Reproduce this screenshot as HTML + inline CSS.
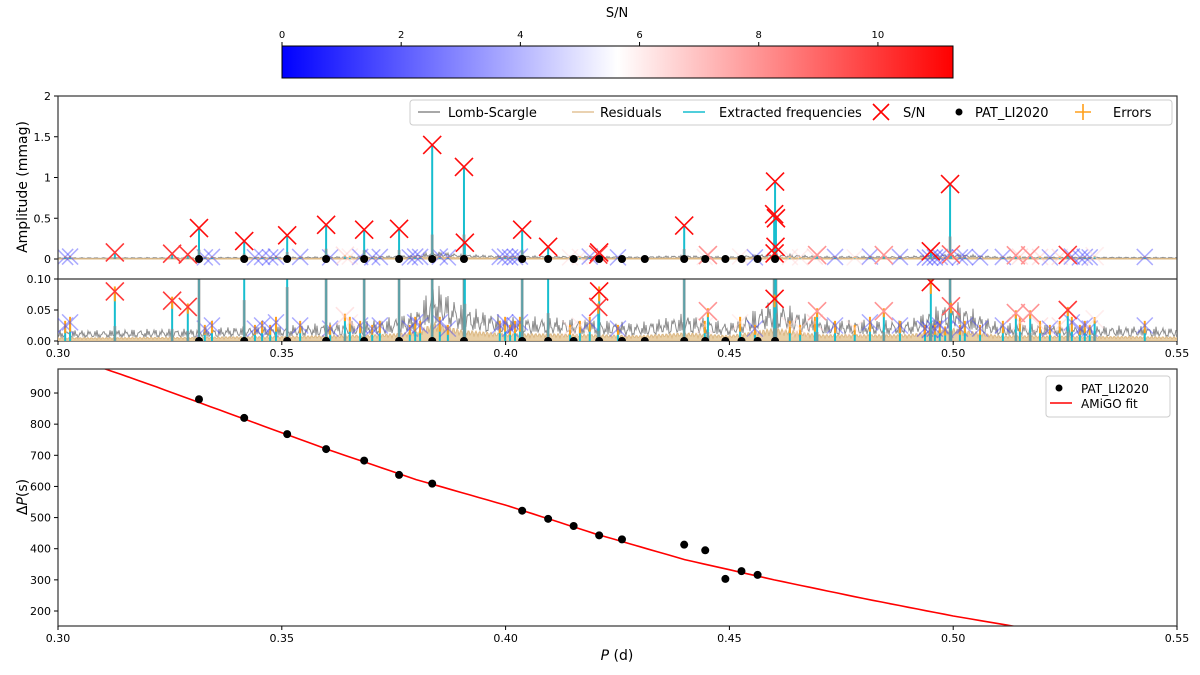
<!DOCTYPE html>
<html><head><meta charset="utf-8"><style>
body{margin:0;background:#fff;font-family:"Liberation Sans","DejaVu Sans",sans-serif}
svg{display:block}
text{font-family:"DejaVu Sans","Liberation Sans",sans-serif;fill:#000}
</style></head><body>
<svg id="chart" width="1200" height="675" viewBox="0 0 1200 675">
<defs>
<linearGradient id="bwr" x1="0" x2="1" y1="0" y2="0">
<stop offset="0" stop-color="#0000ff"/><stop offset="0.5" stop-color="#ffffff"/><stop offset="1" stop-color="#ff0000"/>
</linearGradient>
<clipPath id="clipTop"><rect x="58" y="96" width="1119" height="183"/></clipPath>
<clipPath id="clipSub"><rect x="58" y="279" width="1119" height="62"/></clipPath>
<clipPath id="clipBot"><rect x="58" y="369" width="1119" height="257"/></clipPath>
</defs>
<g>
<text x="617" y="17" font-size="13" text-anchor="middle">S/N</text>
<rect x="282" y="46" width="671" height="32" fill="url(#bwr)" stroke="#000" stroke-width="1"/>
<g id="cbTicks"></g>
</g>
<g id="top"></g>
<g id="sub"></g>
<g id="bot"></g>
<text transform="translate(27,187) rotate(-90)" font-size="14" text-anchor="middle">Amplitude (mmag)</text>
<text transform="translate(27,497) rotate(-90)" font-size="14" text-anchor="middle">Δ<tspan font-style="italic">P</tspan>(s)</text>
<text x="617" y="660" font-size="14" text-anchor="middle"><tspan font-style="italic">P</tspan> (d)</text>
</svg>
<script>
// ---- data ----
const strongPeriods = [0.3127,0.3255,0.3290,0.3315,0.3416,0.3512,0.3599,0.3684,0.3762,0.3836,0.3907,0.3909,0.4037,0.4095,0.4209,0.4207,0.4399,0.4452,0.4602,0.4600,0.4604,0.4603,0.4601,0.4696,0.4845,0.4950,0.4993,0.4995,0.5140,0.5172,0.5256,0.5316,0.3641];
const strongAmps    = [0.080,0.065,0.055,0.38,0.22,0.29,0.42,0.36,0.37,1.40,1.13,0.20,0.36,0.15,0.08,0.055,0.41,0.048,0.95,0.55,0.50,0.15,0.068,0.048,0.048,0.095,0.92,0.056,0.045,0.045,0.05,0.035,0.04];
const strongSN      = [10,10,10,11,11,11,11,11,11,11,11,11,11,11,11,10,11,8,11,11,11,11,11,8,8,11,11,9,8,8,10,6.5,7];
const weakPeriods = [0.3016,0.3027,0.3328,0.3344,0.3440,0.3456,0.3474,0.3487,0.3541,0.3608,0.3652,0.3675,0.3702,0.3719,0.3786,0.3798,0.3809,0.3853,0.3871,0.3987,0.3999,0.4010,0.4021,0.4032,0.4144,0.4166,0.4188,0.4251,0.4445,0.4524,0.4557,0.4635,0.4658,0.4691,0.4736,0.4780,0.4814,0.4881,0.4937,0.4948,0.4959,0.4970,0.4982,0.5015,0.5026,0.5060,0.5111,0.5149,0.5194,0.5216,0.5238,0.5265,0.5283,0.5294,0.5305,0.5428];
const weakAmps = [0.025,0.03,0.02,0.025,0.02,0.025,0.02,0.03,0.025,0.02,0.03,0.025,0.02,0.025,0.02,0.03,0.025,0.03,0.02,0.025,0.03,0.02,0.025,0.03,0.02,0.025,0.03,0.02,0.025,0.03,0.02,0.025,0.02,0.03,0.025,0.02,0.03,0.025,0.02,0.018,0.02,0.025,0.018,0.02,0.025,0.02,0.025,0.03,0.025,0.02,0.025,0.03,0.02,0.025,0.02,0.025];
const weakSN = [1.5,1.5,1.5,1.5,1.5,1.5,1.5,1.5,1.5,1.5,6.5,1.5,1.5,1.5,1.5,1.5,1.5,1.5,1.5,1.5,1.5,1.5,1.5,1.5,6.5,6.5,1.5,1.5,6.5,6.5,1.5,6.5,6.5,7,1.5,6.5,1.5,1.5,1,1,1,1.5,1.5,1.5,1.5,1.5,1.5,7,7,1.5,7,1.5,1.5,1.5,1.5,1.5];
const patPeriods = [0.3315,0.3416,0.3512,0.3599,0.3684,0.3762,0.3836,0.4037,0.4095,0.4152,0.4209,0.4260,0.4399,0.4446,0.4491,0.4527,0.4563];
const patSpacing = [880,820,768,720,683,637,609,522,496,473,443,430,413,395,303,328,316];
const patTopExtra = [0.3907,0.4311,0.4602];
const fitP = [0.30,0.32,0.34,0.36,0.38,0.40,0.42,0.44,0.46,0.48,0.50,0.52];
const fitDP = [1030,930,825,720,622,540,448,365,300,240,184,135];
const noiseP = [0.30,0.31,0.32,0.33,0.34,0.35,0.36,0.37,0.375,0.38,0.384,0.39,0.40,0.41,0.42,0.43,0.44,0.45,0.46,0.47,0.48,0.49,0.50,0.51,0.52,0.53,0.54,0.55];
const noiseAmp = [0.018,0.018,0.02,0.02,0.024,0.025,0.03,0.034,0.04,0.05,0.1,0.06,0.04,0.04,0.035,0.03,0.045,0.03,0.07,0.035,0.035,0.035,0.07,0.03,0.028,0.025,0.025,0.022];
const xTicks = [0.30,0.35,0.40,0.45,0.50,0.55];
const topTicks = [0,0.5,1,1.5,2];
const topTickLbl = ["0","0.5","1","1.5","2"];
const subTicks = [0,0.05,0.10];
const subTickLbl = ["0.00","0.05","0.10"];
const botTicks = [200,300,400,500,600,700,800,900];
const cbTicks = [0,2,4,6,8,10];
// ---- scales ----
const NS="http://www.w3.org/2000/svg";
const X0=58,X1=1177;
const xs=p=>X0+(p-0.30)/0.25*(X1-X0);
const yT=a=>259-a*81.5;
const yS=a=>341-a*620;
const yB=v=>611-(v-200)*0.3114;
const cbx=s=>282+s*(953-282)/11.26;
function col(s){const m=5.63;let r,g,b;if(s<m){const t=s/m;r=g=Math.round(255*t);b=255;}else{const t=Math.min(1,(s-m)/m);r=255;g=b=Math.round(255*(1-t));}return `rgb(${r},${g},${b})`;}
function el(tag,attrs,parent){const e=document.createElementNS(NS,tag);for(const k in attrs)e.setAttribute(k,attrs[k]);parent.appendChild(e);return e;}
function interp(xa,ya,x){if(x<=xa[0])return ya[0];for(let i=1;i<xa.length;i++){if(x<=xa[i]){const t=(x-xa[i-1])/(xa[i]-xa[i-1]);return ya[i-1]+t*(ya[i]-ya[i-1]);}}return ya[ya.length-1];}
const svg=document.getElementById('chart');
const cbg=document.getElementById('cbTicks');
cbTicks.forEach(v=>{
 const l=el('line',{x1:cbx(v),x2:cbx(v),y1:42,y2:46,stroke:'#000'},cbg);
 
 
 const t=el('text',{x:cbx(v),y:38,'font-size':10,'text-anchor':'middle'},cbg);t.textContent=v;
 
 
});
function xMark(g,cx,cy,size,color,op,sw){
 const p=el('path',{d:`M${cx-size},${cy-size}L${cx+size},${cy+size}M${cx-size},${cy+size}L${cx+size},${cy-size}`,stroke:color,'stroke-width':sw,'stroke-opacity':op,fill:'none'},g);
 
 
}
function drawSpectrum(gid,yf,clip,isSub){
 const g=document.getElementById(gid);
 const cg=el('g',{'clip-path':`url(#${clip})`},g);
 let ls='',rs='';
 for(let px=X0;px<=X1;px+=1){
  const p=0.30+(px-X0)/(X1-X0)*0.25;
  const env=interp(noiseP,noiseAmp,p);
  const f=0.3+0.7*Math.abs(Math.sin(px*1.7)*Math.sin(px*0.43+1));
  ls+=(px===X0?'M':'L')+px+','+yf(env*f).toFixed(1);
  rs+=(px===X0?'M':'L')+px+','+yf(env*0.3*(0.4+0.6*Math.abs(Math.sin(px*2.3)))).toFixed(1);
 }
 const lsp=el('path',{d:ls,stroke:'#8c8c8c','stroke-width':1,fill:'none'},cg);
 
 
 const rsp=el('path',{d:rs+`L${X1},${yf(0)}L${X0},${yf(0)}Z`,stroke:'#dcb883','stroke-width':1,fill:'#e8cfa6'},cg);
 
 
 weakPeriods.forEach((p,i)=>{
  const x=xs(p);
  const s=el('line',{x1:x,x2:x,y1:yf(0),y2:yf(weakAmps[i]),stroke:'#17becf','stroke-width':2},cg);
  
  
  const e=el('line',{x1:x,x2:x,y1:yf(weakAmps[i]*0.5),y2:yf(weakAmps[i]*1.3),stroke:'#ff9f1a','stroke-width':2},cg);
  
  
  xMark(cg,x,yf(weakAmps[i]),8,col(weakSN[i]),0.45,1.5);
 });
 strongPeriods.forEach((p,i)=>{
  const x=xs(p);
  const s=el('line',{x1:x,x2:x,y1:yf(0),y2:yf(strongAmps[i]),stroke:'#17becf','stroke-width':2},cg);
  
  
  const gl=el('line',{x1:x,x2:x,y1:yf(0),y2:yf(Math.min(strongAmps[i]*0.3,0.3)),stroke:'#8c8c8c','stroke-width':3,'stroke-opacity':0.6},cg);
  
  
  if(strongAmps[i]<0.12){
   const e=el('line',{x1:x,x2:x,y1:yf(strongAmps[i]*0.8),y2:yf(strongAmps[i]*1.1),stroke:'#ff9f1a','stroke-width':2},cg);
   
   
  }
  const op=strongSN[i]>7.5?1:0.45;
  xMark(cg,x,yf(strongAmps[i]),9,col(strongSN[i]),op,1.6);
 });
 patPeriods.concat(patTopExtra).forEach(p=>{
  const c=el('circle',{cx:xs(p),cy:yf(0),r:4,fill:'#000'},cg);
  
  
 });
 return g;
}
const gT=drawSpectrum('top',yT,'clipTop',false);
topTicks.forEach((v,i)=>{
 const y=yT(v);
 el('line',{x1:54,x2:58,y1:y,y2:y,stroke:'#000'},gT);
 const t=el('text',{x:51,y:y+4,'font-size':11,'text-anchor':'end'},gT);t.textContent=topTickLbl[i];
 
 
});
const gS=drawSpectrum('sub',yS,'clipSub',true);
subTicks.forEach((v,i)=>{
 const y=yS(v);
 el('line',{x1:54,x2:58,y1:y,y2:y,stroke:'#000'},gS);
 const t=el('text',{x:51,y:y+4,'font-size':11,'text-anchor':'end'},gS);t.textContent=subTickLbl[i];
 
 
});
el('rect',{x:58,y:96,width:1119,height:245,fill:'none',stroke:'#333','stroke-width':1.2},gT);
el('line',{x1:58,x2:1177,y1:279,y2:279,stroke:'#333','stroke-width':1.2},gS);
function xTicksAt(g,y){
 xTicks.forEach(v=>{
  el('line',{x1:xs(v),x2:xs(v),y1:y,y2:y+4,stroke:'#000'},g);
  const t=el('text',{x:xs(v),y:y+16,'font-size':11,'text-anchor':'middle'},g);t.textContent=v.toFixed(2);
  
  
 });
}
xTicksAt(gS,341);
const lg=el('g',{},gT);


el('rect',{x:410,y:100,width:762,height:25,rx:3,fill:'#fff','fill-opacity':0.85,stroke:'#ccc'},lg);
el('line',{x1:418,x2:440,y1:112,y2:112,stroke:'#8c8c8c','stroke-width':1.5},lg);
el('line',{x1:572,x2:594,y1:112,y2:112,stroke:'#e3c497','stroke-width':1.5},lg);
el('line',{x1:683,x2:705,y1:112,y2:112,stroke:'#17becf','stroke-width':1.5},lg);
xMark(lg,881,112,8,'#ff0000',1,1.6);
el('circle',{cx:959,cy:112,r:3.5,fill:'#000'},lg);
el('path',{d:'M1075,112L1091,112M1083,104L1083,120',stroke:'#ff9f1a','stroke-width':1.6},lg);
[["Lomb-Scargle",448],["Residuals",600],["Extracted frequencies",719],["S/N",903],["PAT_LI2020",975],["Errors",1113]].forEach(([s,x])=>{
 const t=el('text',{x:x,y:117,'font-size':13},lg);t.textContent=s;
 
 
});
const gB=document.getElementById('bot');
const cgB=el('g',{'clip-path':'url(#clipBot)'},gB);
let fd='';
for(let p=0.30;p<=0.55;p+=0.002){fd+=(fd?'L':'M')+xs(p).toFixed(1)+','+yB(interp(fitP,fitDP,p)).toFixed(1);}
const fit=el('path',{d:fd,stroke:'#ff0000','stroke-width':1.6,fill:'none'},cgB);


patPeriods.forEach((p,i)=>{
 const c=el('circle',{cx:xs(p),cy:yB(patSpacing[i]),r:4,fill:'#000'},cgB);
 
 
});
el('rect',{x:58,y:369,width:1119,height:257,fill:'none',stroke:'#333','stroke-width':1.2},gB);
botTicks.forEach(v=>{
 const y=yB(v);
 el('line',{x1:54,x2:58,y1:y,y2:y,stroke:'#000'},gB);
 const t=el('text',{x:51,y:y+4,'font-size':11,'text-anchor':'end'},gB);t.textContent=v;
 
 
});
xTicksAt(gB,626);
const lb=el('g',{},gB);


el('rect',{x:1046,y:376,width:124,height:41,rx:3,fill:'#fff',stroke:'#ccc'},lb);
el('circle',{cx:1059,cy:388,r:3.5,fill:'#000'},lb);
el('line',{x1:1050,x2:1072,y1:403,y2:403,stroke:'#ff0000','stroke-width':1.6},lb);
[["PAT_LI2020",393],["AMiGO fit",408]].forEach(([s,y])=>{
 const t=el('text',{x:1081,y:y,'font-size':12},lb);t.textContent=s;
 
 
});
</script>
</body></html>
